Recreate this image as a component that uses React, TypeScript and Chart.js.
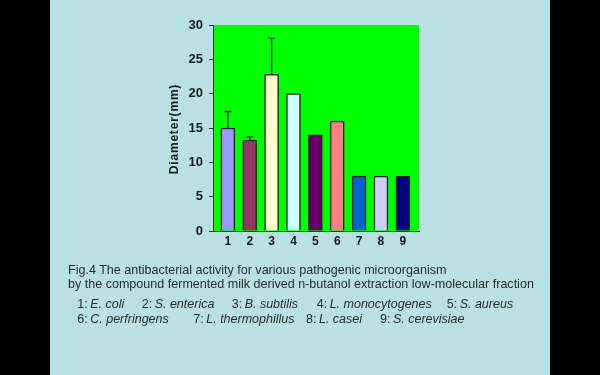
import React, { useEffect, useRef } from 'react';
import { Chart, registerables } from 'chart.js';

Chart.register(...registerables);

const categories = ['1', '2', '3', '4', '5', '6', '7', '8', '9'];
const diameters = [15, 13.25, 22.8, 20, 14, 16, 8, 8, 8];
const errors = [2.4, 0.45, 5.3, 0, 0, 0, 0, 0, 0];
const barColors = ['#9999ff', '#993366', '#ffffcc', '#ccffff', '#660066', '#ff8080', '#0066cc', '#ccccff', '#000080'];
const yTicks = [0, 5, 10, 15, 20, 25, 30];
const yTitle = 'Diameter(mm)';
const captionLines = [
  'Fig.4 The antibacterial activity for various pathogenic microorganism',
  'by the compound fermented milk derived n-butanol extraction low-molecular fraction',
];
const organismNums = ['1', '2', '3', '4', '5', '6', '7', '8', '9'];
const organismNames = ['E. coli', 'S. enterica', 'B. subtilis', 'L. monocytogenes', 'S. aureus', 'C. perfringens', 'L. thermophillus', 'L. casei', 'S. cerevisiae'];

// layout (pixel positions of legend entries)
const legendSlots = [
  { x: 77.3, y: 296.7 }, { x: 141.7, y: 296.7 }, { x: 231.7, y: 296.7 }, { x: 316.7, y: 296.7 }, { x: 446.7, y: 296.7 },
  { x: 77.3, y: 311.7 }, { x: 193.3, y: 311.7 }, { x: 306, y: 311.7 }, { x: 380, y: 311.7 },
];

const FONT = '"Liberation Sans", Arial, sans-serif';

export default function App() {
  const ref = useRef<HTMLCanvasElement | null>(null);

  useEffect(() => {
    if (!ref.current) return;
    const bgPlugin = {
      id: 'greenBg',
      beforeDraw(chart: any) {
        const { ctx, chartArea } = chart;
        ctx.save();
        ctx.fillStyle = '#00ff00';
        ctx.fillRect(chartArea.left, chartArea.top, chartArea.right - chartArea.left, chartArea.bottom - chartArea.top);
        ctx.restore();
      },
    };
    const errPlugin = {
      id: 'errBars',
      afterDatasetsDraw(chart: any) {
        const { ctx } = chart;
        const meta = chart.getDatasetMeta(0);
        const ys = chart.scales.y;
        ctx.save();
        ctx.strokeStyle = '#1a2a1a';
        ctx.lineWidth = 1.3;
        meta.data.forEach((bar: any, i: number) => {
          const e = errors[i];
          if (!e) return;
          const x = bar.x;
          const y0 = ys.getPixelForValue(diameters[i]);
          const y1 = ys.getPixelForValue(diameters[i] + e);
          ctx.beginPath();
          ctx.moveTo(x, y0);
          ctx.lineTo(x, y1);
          ctx.moveTo(x - 3.5, y1);
          ctx.lineTo(x + 3.5, y1);
          ctx.stroke();
        });
        ctx.restore();
      },
    };
    const titlePlugin = {
      id: 'yTitle',
      afterDraw(chart: any) {
        const { ctx } = chart;
        ctx.save();
        ctx.translate(175, 129);
        ctx.rotate(-Math.PI / 2);
        ctx.font = 'bold 12px ' + FONT;
        (ctx as any).letterSpacing = '0.8px';
        ctx.fillStyle = '#1a1a1a';
        ctx.textAlign = 'center';
        ctx.textBaseline = 'middle';
        ctx.fillText(yTitle, 0, 0);
        ctx.restore();
      },
    };

    const chart = new Chart(ref.current, {
      type: 'bar',
      data: {
        datasets: [
          {
            data: diameters.map((v, i) => ({ x: i + 1, y: v })),
            backgroundColor: barColors,
            borderColor: '#222222',
            borderWidth: 1.5,
            barThickness: 14,
          },
        ],
      },
      options: {
        responsive: false,
        animation: false,
        devicePixelRatio: 1,
        layout: { padding: { left: 160, right: 181, top: 25, bottom: 114 } },
        plugins: { legend: { display: false }, tooltip: { enabled: false }, title: { display: false } },
        scales: {
          x: {
            type: 'linear',
            offset: false,
            min: 0.32,
            max: 9.74,
            afterBuildTicks(scale: any) {
              scale.ticks = categories.map((_, i) => ({ value: i + 1 }));
            },
            afterFit(scale: any) {
              scale.height = 30;
            },
            grid: { display: false, drawTicks: false, offset: false },
            border: { display: true, color: '#333333', width: 1 },
            ticks: {
              autoSkip: false,
              maxRotation: 0,
              padding: 3,
              color: '#1a1a1a',
              font: { family: FONT, size: 12, weight: 'bold' },
              callback: (v: any) => categories[Number(v) - 1] ?? '',
            },
          },
          y: {
            min: 0,
            max: 30,
            afterBuildTicks(scale: any) {
              scale.ticks = yTicks.map((v) => ({ value: v }));
            },
            afterFit(scale: any) {
              scale.width = 53;
            },
            grid: { drawOnChartArea: false, drawTicks: true, tickLength: 4, color: '#333333' },
            border: { display: true, color: '#333333', width: 1 },
            ticks: {
              padding: 6,
              color: '#1a1a1a',
              font: { family: FONT, size: 13, weight: 'bold' },
            },
          },
        },
      } as any,
      plugins: [bgPlugin, errPlugin, titlePlugin],
    });
    return () => chart.destroy();
  }, []);

  return (
    <div style={{ position: 'absolute', left: 0, top: 0, width: 600, height: 375, background: '#000', overflow: 'hidden', fontFamily: FONT }}>
      <div style={{ position: 'absolute', left: 50, top: 0, width: 500, height: 375, background: '#b9e0e3' }} />
      <canvas ref={ref} width={600} height={375} style={{ position: 'absolute', left: 0, top: 0, width: 600, height: 375 }} />
      {captionLines.map((t, i) => (
        <div key={i} style={{ position: 'absolute', left: 68, top: 262.3 + i * 13.3, fontSize: 12.55, lineHeight: '16px', color: '#2a2a2a', whiteSpace: 'nowrap' }}>
          {t}
        </div>
      ))}
      {organismNames.map((n, i) => (
        <div key={n} style={{ position: 'absolute', left: legendSlots[i].x, top: legendSlots[i].y, fontSize: 12.5, lineHeight: '15px', color: '#2a2a2a', whiteSpace: 'nowrap' }}>
          {organismNums[i]}:<span style={{ fontStyle: 'italic', marginLeft: 2.5 }}>{n}</span>
        </div>
      ))}
    </div>
  );
}
